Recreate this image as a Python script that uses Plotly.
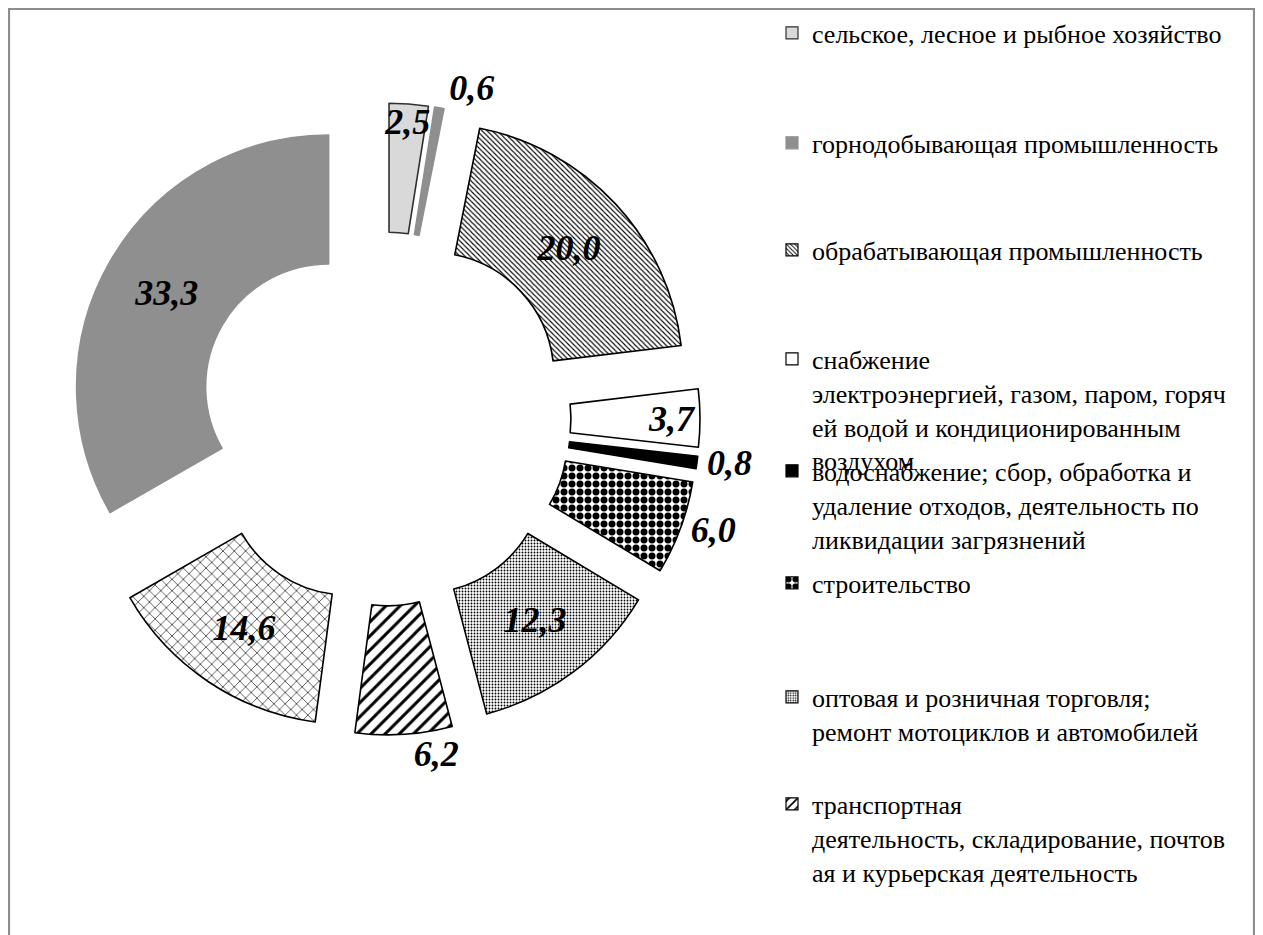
import plotly.graph_objects as go

# ---- data ----
labels = [
    "сельское, лесное и рыбное хозяйство",
    "горнодобывающая промышленность",
    "обрабатывающая промышленность",
    "снабжение<br>электроэнергией, газом, паром, горяч<br>ей водой и кондиционированным<br>воздухом",
    "водоснабжение; сбор, обработка и<br>удаление отходов, деятельность по<br>ликвидации загрязнений",
    "строительство",
    "оптовая и розничная торговля;<br>ремонт мотоциклов и автомобилей",
    "транспортная<br>деятельность, складирование, почтов<br>ая и курьерская деятельность",
    "деятельность по операциям с недвижимым имуществом",
    "прочие виды деятельности",
]
values = [2.5, 0.6, 20.0, 3.7, 0.8, 6.0, 12.3, 6.2, 14.6, 33.3]
value_text = [f"{v:.1f}".replace(".", ",") for v in values]
legend_count = 8  # entries visible in the reference legend

# ---- styles ----
fill_colors = ["#d9d9d9", "#8f8f8f", "white", "white", "black", "white", "white", "white", "white", "#8f8f8f"]
line_colors = ["#303030", "#8f8f8f", "black", "black", "black", "black", "black", "black", "black", "#8f8f8f"]
pat_shape = ["", "", "\\", "", "", ".", ".", "/", "x", ""]
pat_size = [8, 8, 3.6, 8, 8, 8, 3, 10, 8, 8]
pat_solid = [0.3, 0.3, 0.3, 0.3, 0.3, 0.6, 0.3, 0.3, 0.15, 0.3]
legend_pat_size = [5, 5, 3, 5, 5, 7, 2.5, 6, 5, 5]
text_pos = ["inside", "outside", "inside", "inside", "outside", "outside", "inside", "outside", "inside", "inside"]

W, H = 1263, 935
PAGE = 8  # default body margin of the html page; page coords -> figure coords
serif = "Liberation Serif, Times New Roman, serif"


def fx(px):  # page x (px) -> paper fraction
    return (px - PAGE) / W


def fy(py):  # page y (px, from top) -> paper fraction
    return 1 - (py - PAGE) / H


fig = go.Figure()

fig.add_trace(go.Pie(
    labels=labels,
    values=values,
    text=value_text,
    textinfo="text",
    textposition=text_pos,
    insidetextorientation="horizontal",
    sort=False,
    direction="clockwise",
    rotation=0,
    hole=0.488,
    pull=[0.254] * len(values),
    domain=dict(x=[fx(68), fx(700)], y=[fy(735), fy(103)]),
    marker=dict(
        colors=fill_colors,
        line=dict(color=line_colors, width=1.6),
        pattern=dict(shape=pat_shape, size=pat_size, solidity=pat_solid,
                     fgcolor="black", bgcolor="white", fillmode="replace"),
    ),
    textfont=dict(family=serif, size=36, color="black", weight="bold", style="italic"),
    showlegend=False,
    hoverinfo="label+value",
))

# legend carriers: tiny pies hidden under their own legend symbols,
# one legend per entry so each entry sits where the original puts it
legend_baselines = [43, 153, 260, 369, 481, 593, 707, 814]  # page y of first text line
legend_font = 26
lh = 1.3 * legend_font
legend_text_x = 812  # page x where legend text starts
layout_legends = {}
for k in range(legend_count):
    name = "legend" if k == 0 else f"legend{k + 1}"
    top = legend_baselines[k] - (6.5 + 0.8 * lh)
    lx = legend_text_x - 40
    sym_x = lx + 20
    sym_y = top + 6.5 + lh / 2
    eps = 0.0002
    fig.add_trace(go.Pie(
        labels=[labels[k]],
        values=[values[k]],
        sort=False,
        textinfo="none",
        hoverinfo="skip",
        domain=dict(x=[fx(sym_x) - eps, fx(sym_x) + eps], y=[fy(sym_y) - eps, fy(sym_y) + eps]),
        marker=dict(
            colors=[fill_colors[k]],
            line=dict(color=[line_colors[k]], width=1.2),
            pattern=dict(shape=[pat_shape[k]], size=[legend_pat_size[k]],
                         solidity=[pat_solid[k]], fgcolor="black", bgcolor="white"),
        ),
        legend=name,
        showlegend=True,
    ))
    layout_legends[name] = dict(
        x=fx(lx), xanchor="left", y=fy(top), yanchor="top",
        bgcolor="rgba(0,0,0,0)", borderwidth=0, valign="top",
        font=dict(family=serif, size=legend_font, color="black"),
    )

fig.update_layout(
    width=W, height=H,
    margin=dict(l=0, r=0, t=0, b=0, autoexpand=False),
    paper_bgcolor="white",
    plot_bgcolor="white",
    uniformtext=dict(minsize=36, mode="show"),
    shapes=[dict(type="rect", xref="paper", yref="paper",
                 x0=1 / W, x1=fx(1254), y0=-0.05, y1=1 - 1 / H,
                 line=dict(color="#8c8c8c", width=2.2), fillcolor="rgba(0,0,0,0)")],
    **layout_legends,
)

fig.write_html("out.html")
